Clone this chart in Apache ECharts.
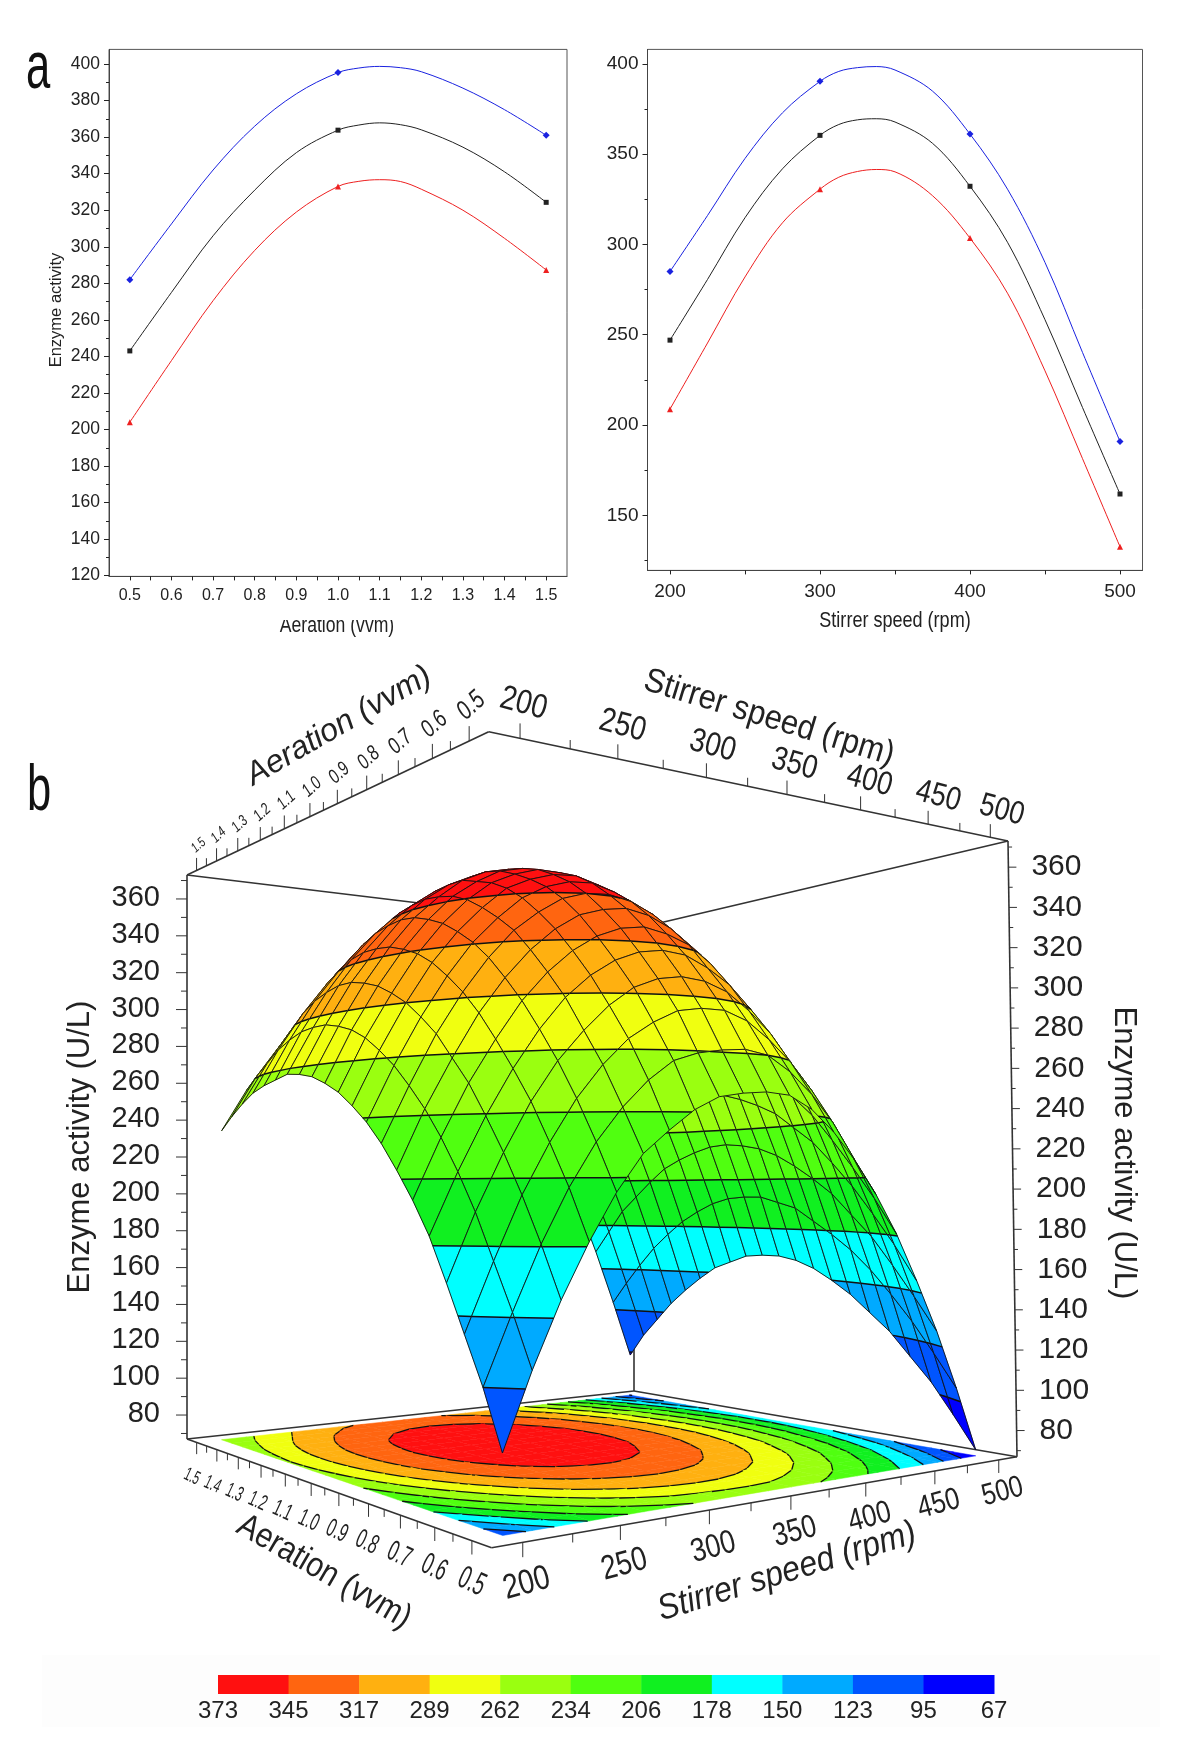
<!DOCTYPE html>
<html><head><meta charset="utf-8">
<style>html,body{margin:0;padding:0;background:#fff}#c{width:1200px;height:1759px}</style>
<script src="https://cdn.jsdelivr.net/npm/echarts@6/dist/echarts.min.js"></script>
</head><body><div id="c"></div>
<script>
// ---------- panel a data ----------
const aerationX = [0.5,0.6,0.7,0.8,0.9,1.0,1.05,1.1,1.15,1.2,1.3,1.4,1.5];
const aerationMarkers = [0.5,1.0,1.5];
const aerationUpper = [282,312.5,342,366,383.7,395.3,397.8,398.7,398,395.8,386.8,375,361];
const aerationMean  = [243,275,306,331,351.5,363.8,366.6,367.8,366.8,364,354.5,341,324.3];
const aerationLower = [204,237.7,270.5,298,319,333,335.8,336.7,335.7,331.5,320,304.6,287.3];
const stirrerX = [200,225,250,275,300,312.5,325,337.5,350,375,400,425,450,475,500];
const stirrerMarkers = [200,300,400,500];
const stirrerUpper = [285,316,347.6,372.9,390.3,395.8,397.9,398.5,396.6,384.9,361.1,330.6,290,240.2,190.9];
const stirrerMean  = [247,280.6,314.8,341.9,360.4,366.4,369,369.6,367.8,356,332.2,301.2,258.3,209.7,161.8];
const stirrerLower = [208.8,245.4,282,312,330.6,337.2,340.4,341.5,340.2,327,303.5,273,230,181.4,132.6];
const aerXLabels = [0.5,0.6,0.7,0.8,0.9,1.0,1.1,1.2,1.3,1.4,1.5];
const aerXTicks = [0.5,0.55,0.6,0.65,0.7,0.75,0.8,0.85,0.9,0.95,1,1.05,1.1,1.15,1.2,1.25,1.3,1.35,1.4,1.45,1.5];
const aerYLabels = [120,140,160,180,200,220,240,260,280,300,320,340,360,380,400];
const aerYMinor = [130,150,170,190,210,230,250,270,290,310,330,350,370,390];
const stiXLabels = [200,300,400,500];
const stiXTicks = [200,250,300,350,400,450,500];
const stiYLabels = [150,200,250,300,350,400];
const stiYMinor = [125,175,225,275,325,375];

// ---------- panel b data ----------
const surfaceStirrer = [200,215,230,245,260,275,290,305,320,335,350,365,380,395,410,425,440,455,470,485,500];
const surfaceAeration = [0.5,0.55,0.6,0.65,0.7,0.75,0.8,0.85,0.9,0.95,1,1.05,1.1,1.15,1.2,1.25,1.3,1.35,1.4,1.45,1.5];
const surfaceZ = [
[99,130,157,180,200,216,226,235,241,243,244,243,237,227,214,198,179,156,131,102,70],
[123,152,179,202,221,236,248,257,261,263,264,262,255,245,232,215,196,173,147,118,86],
[143,172,199,221,240,255,267,275,281,283,283,279,271,261,248,231,211,188,162,133,101],
[163,192,217,239,257,271,283,292,297,299,298,294,286,276,262,245,225,202,176,146,113],
[182,209,233,254,272,287,298,306,311,313,312,307,300,289,275,258,238,214,187,158,125],
[197,224,248,268,286,300,311,319,324,326,324,320,312,300,286,269,248,225,198,168,134],
[210,237,260,281,298,312,323,331,335,337,335,330,322,310,296,278,257,233,206,176,143],
[222,248,272,292,309,323,333,341,345,346,344,339,330,319,304,286,265,241,213,183,150],
[232,258,281,301,318,331,342,349,353,354,351,346,337,325,310,292,271,246,219,190,156],
[240,266,289,309,325,338,349,355,359,360,357,351,342,330,315,297,275,250,223,193,160],
[247,273,295,315,331,344,354,360,364,364,361,355,346,334,318,300,278,253,225,196,162],
[252,278,300,319,335,348,357,364,367,367,364,358,348,336,320,301,279,253,226,196,162],
[256,281,303,322,338,350,360,366,369,368,365,358,349,336,320,301,278,253,225,195,161],
[258,283,305,323,339,351,360,366,369,368,364,358,348,334,318,299,276,250,222,192,157],
[259,283,305,323,338,350,359,364,367,366,362,355,345,331,315,295,272,246,218,187,153],
[257,282,303,321,336,348,356,361,364,363,358,351,341,327,310,290,267,241,213,181,146],
[255,279,300,317,332,344,352,357,359,357,353,345,335,321,304,283,260,234,205,173,138],
[252,275,295,312,327,338,346,351,352,351,346,338,327,313,296,275,252,226,196,164,129],
[247,269,288,305,320,331,338,343,344,342,337,329,318,303,286,265,242,216,187,153,118],
[241,263,281,297,311,322,329,333,334,332,327,319,307,292,275,254,231,204,174,141,107],
[234,256,274,290,303,313,319,323,324,322,316,308,296,281,264,241,218,191,161,128,93]
];
const levels = [373,345,317,289,262,234,206,178,150,123,95,67];
const bandColors = ['#ff1010','#ff6510','#ffb010','#f0ff10','#9aff10','#50ff10','#10f020','#00ffff','#00aaff','#0055ff','#0000ff'];
const zMajor = [80,100,120,140,160,180,200,220,240,260,280,300,320,340,360];
const zMinor = [70,90,110,130,150,170,190,210,230,250,270,290,310,330,350,370];
const stirMajor = [200,250,300,350,400,450,500];
const stirMinor = [225,275,325,375,425,475];
const aerMajor = [0.5,0.6,0.7,0.8,0.9,1.0,1.1,1.2,1.3,1.4,1.5];
const aerMinor = [0.55,0.65,0.75,0.85,0.95,1.05,1.15,1.25,1.35,1.45];
const sMin=185,sMax=515,aMin=0.45,aMax=1.55,zMin=67,zMax=373;

// ---------- box layout (perspective frame of panel b) ----------
function homography(p00,p10,p11,p01){
  const dx1=p10[0]-p11[0],dx2=p01[0]-p11[0],dx3=p00[0]-p10[0]+p11[0]-p01[0];
  const dy1=p10[1]-p11[1],dy2=p01[1]-p11[1],dy3=p00[1]-p10[1]+p11[1]-p01[1];
  const den=dx1*dy2-dx2*dy1;
  const g=(dx3*dy2-dx2*dy3)/den,h=(dx1*dy3-dx3*dy1)/den;
  return {g,h,
    a:p10[0]-p00[0]+g*p10[0],b:p01[0]-p00[0]+h*p01[0],c:p00[0],
    d:p10[1]-p00[1]+g*p10[1],e:p01[1]-p00[1]+h*p01[1],f:p00[1]};
}
const floorH = homography([491.6,1547.7],[1017,1456.7],[634,1391],[187,1439]);
const ceilH  = homography([488.7,731.7],[1008,841],[634,929],[187,875]);
function applyH(H,u,v){const w=1+H.g*u+H.h*v;return [(H.a*u+H.b*v+H.c)/w,(H.d*u+H.e*v+H.f)/w];}
function depth(u,v){return 1+floorH.g*u+floorH.h*v;}
function project(u,v,w){const f=applyH(floorH,u,v),c=applyH(ceilH,u,v);return [f[0]+(c[0]-f[0])*w,f[1]+(c[1]-f[1])*w];}
function uvOf(api,s,a){const p=api.coord([s,a]);return [p[0]/1000,1-p[1]/1000];}
function wOf(z){return (z-zMin)/(zMax-zMin);}
function pt(api,s,a,z){const q=uvOf(api,s,a);return project(q[0],q[1],wOf(z));}

function clipAbove(poly,L,keepAbove){
  const out=[];
  for(let i=0;i<poly.length;i++){
    const p=poly[i],q=poly[(i+1)%poly.length];
    const pin=keepAbove?p[2]>=L:p[2]<=L, qin=keepAbove?q[2]>=L:q[2]<=L;
    if(pin) out.push(p);
    if(pin!==qin){const t=(L-p[2])/(q[2]-p[2]);out.push([p[0]+(q[0]-p[0])*t,p[1]+(q[1]-p[1])*t,L]);}
  }
  return out;
}
function crossings(poly,L){
  const out=[];
  for(let i=0;i<poly.length;i++){
    const p=poly[i],q=poly[(i+1)%poly.length];
    if((p[2]>=L)!==(q[2]>=L)){const t=(L-p[2])/(q[2]-p[2]);out.push([p[0]+(q[0]-p[0])*t,p[1]+(q[1]-p[1])*t]);}
  }
  return out;
}
function cellRender(onFloor){
  return function(params,api){
    const i=api.value(2),j=api.value(3);
    const S=surfaceStirrer,A=surfaceAeration,Z=surfaceZ;
    const poly=[[S[i],A[j],Z[j][i]],[S[i+1],A[j],Z[j][i+1]],[S[i+1],A[j+1],Z[j+1][i+1]],[S[i],A[j+1],Z[j+1][i]]];
    const toPx=p=>pt(api,p[0],p[1],onFloor?zMin:p[2]);
    const children=[];
    bandColors.forEach((col,b)=>{
      let c=clipAbove(poly,levels[b],false);
      if(c.length) c=clipAbove(c,levels[b+1],true);
      if(c.length>=3) children.push({type:'polygon',shape:{points:c.map(toPx)},style:{fill:col,stroke:col,lineWidth:0.5}});
    });
    levels.forEach(L=>{
      const x=crossings(poly,L);
      for(let k=0;k+1<x.length;k+=2){
        children.push({type:'polyline',shape:{points:[toPx([x[k][0],x[k][1],L]),toPx([x[k+1][0],x[k+1][1],L])]},style:{stroke:'#111',lineWidth:onFloor?1.3:1.5,fill:null}});
      }
    });
    if(!onFloor) children.push({type:'polygon',shape:{points:poly.map(toPx)},style:{fill:null,stroke:'#111',lineWidth:0.9}});
    return {type:'group',children};
  };
}
const cells=[];
for(let j=0;j<surfaceAeration.length-1;j++)for(let i=0;i<surfaceStirrer.length-1;i++)cells.push([surfaceStirrer[i],surfaceAeration[j],i,j]);
const cu=c=>(c[0]-sMin)/(sMax-sMin), cv=c=>(c[1]-aMin)/(aMax-aMin);
cells.sort((p,q)=>depth(cu(q),cv(q))-depth(cu(p),cv(p)));

// frame edges as [s1,a1,z1,s2,a2,z2]
const frameEdges=[
 [sMin,aMin,zMin,sMax,aMin,zMin],[sMin,aMin,zMin,sMin,aMax,zMin],[sMax,aMin,zMin,sMax,aMax,zMin],[sMin,aMax,zMin,sMax,aMax,zMin],
 [sMin,aMin,zMax,sMax,aMin,zMax],[sMin,aMin,zMax,sMin,aMax,zMax],[sMax,aMin,zMax,sMax,aMax,zMax],[sMin,aMax,zMax,sMax,aMax,zMax],
 [sMin,aMax,zMin,sMin,aMax,zMax],[sMax,aMin,zMin,sMax,aMin,zMax],[sMax,aMax,zMin,sMax,aMax,zMax]
];
const base3d={type:'custom',xAxisIndex:2,yAxisIndex:4,silent:true,animation:false};
function lineEl(p,q,lw){return {type:'polyline',shape:{points:[p,q]},style:{stroke:'#333',lineWidth:lw||1,fill:null}};}
function textEl(t,x,y,o){
  return {type:'text',x,y,rotation:o.rot||0,scaleX:o.sx||1,scaleY:o.sy||1,
    style:{text:t,fontFamily:'Liberation Sans',fontSize:o.fs,fontStyle:o.it?'italic':'normal',fill:'#222',align:o.align||'center',verticalAlign:'middle'}};
}
// one tick plus optional label on an axis of the box
function tickSeries(values,major,fn){
  return Object.assign({},base3d,{z:6,data:values.map(v=>[v,major?1:0]),encode:{x:2,y:2},
    renderItem:(params,api)=>fn(api,api.value(0),major)});
}
const deg=Math.PI/180;
function floorStir(api,s,major){
  const q=uvOf(api,s,aMin),p=project(q[0],q[1],0),d=depth(q[0],q[1]);
  const ch=[lineEl(p,[p[0],p[1]+(major?15:9)/Math.sqrt(d)])];
  if(major) ch.push(textEl(String(s),p[0]+4,p[1]+42/d,{fs:31/Math.sqrt(d),rot:15*deg,sx:0.92,sy:1.12}));
  return {type:'group',children:ch};
}
function floorAer(api,a,major){
  const q=uvOf(api,sMin,a),p=project(q[0],q[1],0),d=depth(q[0],q[1]);
  const ch=[lineEl(p,[p[0],p[1]+(major?14:8)/Math.sqrt(d)])];
  if(major) ch.push(textEl(a.toFixed(1),p[0]-5*q[1],p[1]+42/Math.pow(d,0.55),{fs:32/Math.pow(d,1.6),rot:-25*deg,sx:0.62,sy:1.05}));
  return {type:'group',children:ch};
}
function ceilStir(api,s,major){
  const q=uvOf(api,s,aMin),p=project(q[0],q[1],1),d=depth(q[0],q[1]);
  const ch=[lineEl(p,[p[0],p[1]-(major?15:9)/Math.sqrt(d)])];
  if(major) ch.push(textEl(String(s),p[0]+3+9*q[0],p[1]-35/d,{fs:31/Math.pow(d,0.2),rot:-15*deg,sx:0.92,sy:1.1}));
  return {type:'group',children:ch};
}
function ceilAer(api,a,major){
  const q=uvOf(api,sMin,a),p=project(q[0],q[1],1),d=depth(q[0],q[1]);
  const ch=[lineEl(p,[p[0],p[1]-(major?15:9)/Math.sqrt(d)])];
  if(major) ch.push(textEl(a.toFixed(1),p[0]+2,p[1]-36/d,{fs:28/(d*d),rot:42*deg,sx:0.75,it:true}));
  return {type:'group',children:ch};
}
function leftZ(api,z,major){
  const q=uvOf(api,sMin,aMax),p=project(q[0],q[1],wOf(z));
  const ch=[lineEl(p,[p[0]-(major?11:6),p[1]])];
  if(major) ch.push(textEl(String(z),p[0]-27,p[1]-1,{fs:29,align:'right'}));
  return {type:'group',children:ch};
}
function rightZ(api,z,major){
  const q=uvOf(api,sMax,aMin),p=project(q[0],q[1],wOf(z));
  const ch=[lineEl(p,[p[0]+(major?8:4),p[1]])];
  if(major) ch.push(textEl(String(z),p[0]+23,p[1],{fs:30,align:'left'}));
  return {type:'group',children:ch};
}

// ---------- panel a helpers ----------
function lineSeries(xs,ys,marks,gridI,yI,color,sym){
  return {type:'line',xAxisIndex:gridI,yAxisIndex:yI,data:xs.map((x,i)=>[x,ys[i]]),smooth:0.35,
    lineStyle:{color,width:1},itemStyle:{color},symbol:sym,showSymbol:true,showAllSymbol:true,
    symbolSize:v=>marks.indexOf(v[0])>=0?(sym==='diamond'?7:sym==='triangle'?6:5):0,silent:true,animation:false,z:3};
}
function axText(fs){return {fontFamily:'Liberation Sans',fontSize:fs,color:'#222'};}
function xAx(gridIndex,min,max,labels,ticks,fmt,margin,fs){
  return {type:'value',gridIndex,min,max,splitLine:{show:false},
    axisLine:{show:true,onZero:false,lineStyle:{color:'#444'}},
    axisTick:{show:true,length:4,customValues:ticks,lineStyle:{color:'#222'}},
    axisLabel:Object.assign({customValues:labels,margin,formatter:fmt},axText(fs))};
}
function yAxMain(gridIndex,min,max,labels,fs){
  return {type:'value',gridIndex,min,max,position:'left',splitLine:{show:false},
    axisLine:{show:true,onZero:false,lineStyle:{color:'#444'}},
    axisTick:{show:true,length:5,customValues:labels,lineStyle:{color:'#222'}},
    axisLabel:Object.assign({customValues:labels,margin:9},axText(fs))};
}
function yAxMinor(gridIndex,min,max,ticks){
  return {type:'value',gridIndex,min,max,position:'left',splitLine:{show:false},
    axisLine:{show:false,onZero:false},axisLabel:{show:false},
    axisTick:{show:true,length:3,customValues:ticks,lineStyle:{color:'#222'}}};
}
function gText(t,x,y,fs,o){o=o||{};
  return {type:'text',x,y,rotation:o.rot||0,scaleX:o.sx||1,scaleY:o.sy||1,z:20,silent:true,
    style:{text:t,fontFamily:'Liberation Sans',fontSize:fs,fontStyle:o.it?'italic':'normal',fill:o.fill||'#222',align:'center',verticalAlign:'middle'}};
}

const chart=echarts.init(document.getElementById('c'),null,{renderer:'canvas',width:1200,height:1759});
chart.setOption({
  backgroundColor:'#fff',animation:false,
  grid:[
    {left:109,top:49.4,width:458,height:527,show:true,borderColor:'#555',borderWidth:1,backgroundColor:'transparent'},
    {left:647.5,top:49.4,width:495,height:521,show:true,borderColor:'#555',borderWidth:1,backgroundColor:'transparent'},
    {left:0,top:0,width:1000,height:1000,show:false},
    {left:218,top:1675,width:776,height:19,show:false}
  ],
  xAxis:[
    xAx(0,0.45,1.55,aerXLabels,aerXTicks,v=>v.toFixed(1),11,16),
    xAx(1,185,515,stiXLabels,stiXTicks,v=>String(v),12,19),
    {type:'value',gridIndex:2,min:sMin,max:sMax,show:false},
    {type:'value',gridIndex:3,min:0,max:11,axisLine:{show:false},axisTick:{show:false},splitLine:{show:false},
     axisLabel:{customValues:[0,1,2,3,4,5,6,7,8,9,10,11],formatter:v=>String(levels[v]),margin:5,fontFamily:'Liberation Sans',fontSize:24,color:'#222'}}
  ],
  yAxis:[
    yAxMain(0,119.6,408,aerYLabels,17.5),
    yAxMinor(0,119.6,408,aerYMinor),
    yAxMain(1,119.5,408,stiYLabels,19),
    yAxMinor(1,119.5,408,stiYMinor),
    {type:'value',gridIndex:2,min:aMin,max:aMax,show:false},
    {type:'value',gridIndex:3,min:0,max:1,show:false}
  ],
  series:[
    lineSeries(aerationX,aerationUpper,aerationMarkers,0,0,'#1a22e0','diamond'),
    lineSeries(aerationX,aerationMean,aerationMarkers,0,0,'#222222','rect'),
    lineSeries(aerationX,aerationLower,aerationMarkers,0,0,'#ee2020','triangle'),
    lineSeries(stirrerX,stirrerUpper,stirrerMarkers,1,2,'#1a22e0','diamond'),
    lineSeries(stirrerX,stirrerMean,stirrerMarkers,1,2,'#222222','rect'),
    lineSeries(stirrerX,stirrerLower,stirrerMarkers,1,2,'#ee2020','triangle'),
    // frame of the 3D box
    Object.assign({},base3d,{z:2,data:frameEdges,encode:{x:0,y:1},
      renderItem:(params,api)=>{
        const p=pt(api,api.value(0),api.value(1),api.value(2)),q=pt(api,api.value(3),api.value(4),api.value(5));
        return lineEl(p,q,1.6);
      }}),
    // contour map on the floor
    Object.assign({},base3d,{z:3,data:cells,encode:{x:0,y:1},renderItem:cellRender(true)}),
    // surface
    Object.assign({},base3d,{z:4,data:cells,encode:{x:0,y:1},renderItem:cellRender(false)}),
    tickSeries(stirMajor,true,floorStir),tickSeries(stirMinor,false,floorStir),
    tickSeries(aerMajor,true,floorAer),tickSeries(aerMinor,false,floorAer),
    tickSeries(stirMajor,true,ceilStir),tickSeries(stirMinor,false,ceilStir),
    tickSeries(aerMajor,true,ceilAer),tickSeries(aerMinor,false,ceilAer),
    tickSeries(zMajor,true,leftZ),tickSeries(zMinor,false,leftZ),
    tickSeries(zMajor,true,rightZ),tickSeries(zMinor,false,rightZ),
    // colour scale
    {type:'custom',xAxisIndex:3,yAxisIndex:5,silent:true,animation:false,z:5,
     data:bandColors.map((c,i)=>[i,0]),encode:{x:0,y:1},
     renderItem:(params,api)=>{
       const i=api.value(0),a=api.coord([i,1]),b=api.coord([i+1,0]);
       return {type:'rect',shape:{x:a[0],y:a[1],width:b[0]-a[0]+0.5,height:b[1]-a[1]},style:{fill:bandColors[i]}};
     }}
  ],
  graphic:[
    {type:'rect',silent:true,z:-1,shape:{x:42,y:1655,width:1118,height:72},style:{fill:'#fdfdfd'}},
    gText('a',38,70,67,{sx:0.65,fill:'#111'}),
    gText('b',39,792,64,{sx:0.68,fill:'#111'}),
    gText('Enzyme activity',56,310,16.5,{rot:Math.PI/2}),
    gText('Aeration (vvm)',337,626,22,{sx:0.8}),
    {type:'rect',silent:true,z:21,shape:{x:270,y:608,width:140,height:12},style:{fill:'#fff'}},
    gText('Stirrer speed (rpm)',895,621,22,{sx:0.82}),
    gText('Stirrer speed (rpm)',769,718,31,{rot:-17*deg,sy:1.1}),
    gText('Aeration (vvm)',339,726,32,{rot:30*deg,it:true}),
    gText('Stirrer speed (rpm)',787,1572,32,{rot:17*deg,it:true,sy:1.1}),
    gText('Aeration (vvm)',324,1572,30,{rot:-30*deg,sy:1.15}),
    gText('Enzyme activity (U/L)',80,1147,31,{rot:Math.PI/2}),
    gText('Enzyme activity (U/L)',1124,1153,31,{rot:-Math.PI/2})
  ]
});
</script></body></html>
